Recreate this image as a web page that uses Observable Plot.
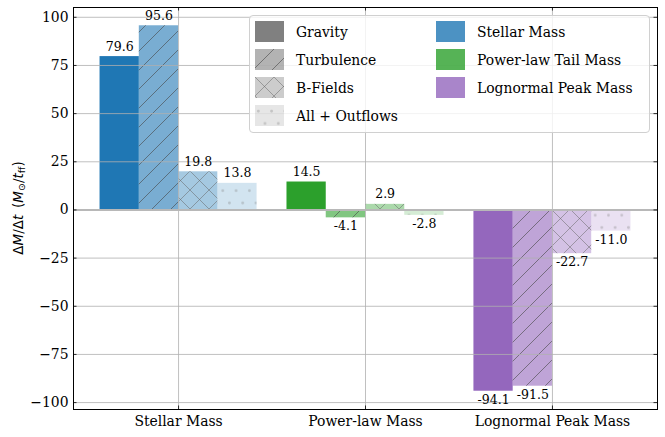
<!DOCTYPE html>
<html><head><meta charset="utf-8">
<script src="https://cdn.jsdelivr.net/npm/d3@7"></script>
<script src="https://cdn.jsdelivr.net/npm/@observablehq/plot@0.6"></script>
<style>
body{margin:0;background:white;}
#wrap{position:relative;width:665px;height:437px;}
.legend{position:absolute;left:249px;top:15px;width:401px;height:118px;border:1px solid #d0d0d0;border-radius:4px;background:rgba(255,255,255,0.8);box-sizing:border-box;font-family:"DejaVu Serif";font-size:13.9px;color:black;}
.item{position:absolute;display:flex;align-items:center;height:21px;white-space:nowrap;}
.item svg{margin-right:12px;display:block;}
</style></head><body><div id="wrap"></div>
<script>
const categories = ["Stellar Mass", "Power-law Mass", "Lognormal Peak Mass"];
const legendNames = ["Stellar Mass", "Power-law Tail Mass", "Lognormal Peak Mass"];
const models = ["Gravity", "Turbulence", "B-Fields", "All + Outflows"];
const stellar = [79.6, 95.6, 19.8, 13.8];
const powerlaw = [14.5, -4.1, 2.9, -2.8];
const lognormal = [-94.1, -91.5, -22.7, -11.0];
const colors = ["#1f77b4", "#2ca02c", "#9467bd"];
const alphas = [1, 0.6, 0.4, 0.2];
const yTicks = [-100, -75, -50, -25, 0, 25, 50, 75, 100];

const values = [stellar, powerlaw, lognormal];
const W = 0.21;
const rows = [];
categories.forEach((c, i) => values[i].forEach((v, j) => rows.push({
  cat: c, i, j, model: models[j], value: v,
  x1: i + (j - 2) * W, x2: i + (j - 1) * W, color: colors[i]
})));

const hatchIds = [null, "hatch-slash", "hatch-cross", "hatch-dots"];
const hatchKeys = [null, "#010101", "#020202", "#030303"];
const PW = 665 - 73 - 8, PH = 437 - 7 - 28, TL = 3.5;

const plot = Plot.plot({
  width: 665, height: 437,
  marginLeft: 73, marginRight: 8, marginTop: 7, marginBottom: 28,
  style: {fontFamily: "DejaVu Serif", fontSize: "13.9px", background: "white", color: "black", overflow: "visible"},
  x: {type: "linear", domain: [-0.562, 2.562]},
  y: {type: "linear", domain: [-103.585, 105.085]},
  color: {type: "identity"},
  marks: [
    ...models.map((m, j) => Plot.rect(rows.filter(r => r.j === j), {
      x1: "x1", x2: "x2", y1: 0, y2: "value", fill: "color", fillOpacity: alphas[j]
    })),
    ...[1, 2, 3].map(j => Plot.rect(rows.filter(r => r.j === j), {
      x1: "x1", x2: "x2", y1: 0, y2: "value", fill: hatchKeys[j]
    })),
    Plot.gridY(yTicks, {stroke: "#b0b0b0", strokeOpacity: 1, strokeWidth: 0.8}),
    Plot.gridX([0, 1, 2], {stroke: "#b0b0b0", strokeOpacity: 1, strokeWidth: 0.8}),
    Plot.ruleY([0], {stroke: "#b8b8b8", strokeWidth: 2}),
    Plot.text(rows.filter(r => r.value >= 0), {
      x: r => (r.x1 + r.x2) / 2, y: "value", text: r => r.value.toFixed(1),
      lineAnchor: "bottom", dy: -6, fontSize: 12.5, fill: "black", fontFamily: "DejaVu Serif"
    }),
    Plot.text(rows.filter(r => r.value < 0), {
      x: r => (r.x1 + r.x2) / 2, y: "value", text: r => r.value.toFixed(1),
      lineAnchor: "top", dy: 3.6, fontSize: 12.5, fill: "black", fontFamily: "DejaVu Serif"
    }),
    Plot.axisY(yTicks, {tickSize: 0, tickPadding: 5, fontSize: 13.9,
      tickFormat: d => d < 0 ? "\u2212" + Math.abs(d) : String(d), label: null}),
    Plot.axisX([0, 1, 2], {tickSize: 0, tickPadding: 7, fontSize: 13.9,
      tickFormat: i => categories[i], label: null}),
    Plot.tickY(yTicks, {y: d => d, insetRight: PW - TL, stroke: "black", strokeWidth: 0.8}),
    Plot.tickY(yTicks, {y: d => d, insetLeft: PW - TL, stroke: "black", strokeWidth: 0.8}),
    Plot.tickX([0, 1, 2], {x: d => d, insetBottom: PH - TL, stroke: "black", strokeWidth: 0.8}),
    Plot.tickX([0, 1, 2], {x: d => d, insetTop: PH - TL, stroke: "black", strokeWidth: 0.8}),
    Plot.frame({stroke: "black", strokeWidth: 1})
  ]
});

const wrap = document.getElementById("wrap");
wrap.appendChild(plot);
const svg = d3.select(plot);

// hatch patterns
const defs = svg.insert("defs", ":first-child");
const S = 19;
const ps = defs.append("pattern").attr("id", "hatch-slash").attr("patternUnits", "userSpaceOnUse")
  .attr("width", S).attr("height", S);
ps.append("path").attr("d", `M0,${S} L${S},0 M-2,2 L2,-2 M${S-2},${S+2} L${S+2},${S-2}`)
  .attr("stroke", "rgb(70,70,70)").attr("stroke-opacity", 0.6).attr("stroke-width", 1).attr("fill", "none");
const pc = defs.append("pattern").attr("id", "hatch-cross").attr("patternUnits", "userSpaceOnUse")
  .attr("width", S).attr("height", S);
pc.append("path").attr("d", `M0,${S} L${S},0 M-2,2 L2,-2 M${S-2},${S+2} L${S+2},${S-2} M0,0 L${S},${S} M-2,${S-2} L2,${S+2} M${S-2},-2 L${S+2},2`)
  .attr("stroke", "rgb(100,100,100)").attr("stroke-opacity", 0.5).attr("stroke-width", 1).attr("fill", "none");
const DW = 13.3, DH = 24.6;
const pd = defs.append("pattern").attr("id", "hatch-dots").attr("patternUnits", "userSpaceOnUse")
  .attr("width", DW).attr("height", DH);
[[DW/4, DH/4], [DW*3/4, DH*3/4]].forEach(([cx, cy]) =>
  pd.append("circle").attr("cx", cx).attr("cy", cy).attr("r", 1.4)
    .attr("fill", "rgb(128,128,128)").attr("fill-opacity", 0.35));

[1, 2, 3].forEach(j => {
  plot.querySelectorAll(`g[fill="${hatchKeys[j]}"]`).forEach(g => g.setAttribute("fill", `url(#${hatchIds[j]})`));
});

// y-axis label
const yl = svg.append("text")
  .attr("transform", "translate(18,208) rotate(-90)")
  .attr("text-anchor", "middle").attr("dominant-baseline", "central")
  .attr("font-family", "DejaVu Sans").attr("font-size", 13.5).attr("font-weight", 500).attr("fill", "black");
const parts = [
  ["\u0394", "normal", 0], ["M", "italic", 0], ["/", "normal", 0], ["\u0394", "normal", 0], ["t", "italic", 0],
  ["\u2002(", "normal", 0], ["M", "italic", 0], ["\u2299", "normal", 3], ["/", "normal", -3], ["t", "italic", 0],
  ["ff", "normal", 3], [")", "normal", -3]
];
parts.forEach(([txt, st, dy]) => {
  const sp = yl.append("tspan").attr("font-style", st).text(txt);
  if (dy) sp.attr("dy", dy);
  if (dy > 0) sp.attr("font-size", 9.5);
});

// legend
const leg = document.createElement("div");
leg.className = "legend";
wrap.appendChild(leg);
function swatch(fill, opacity, hatch) {
  let s = `<svg width="29" height="21"><rect width="29" height="21" fill="${fill}" fill-opacity="${opacity}"/>`;
  if (hatch) s += `<rect width="29" height="21" fill="url(#${hatch})"/>`;
  return s + `</svg>`;
}
models.forEach((m, j) => {
  const it = document.createElement("div");
  it.className = "item";
  it.style.left = "5px"; it.style.top = (5 + 28 * j) + "px";
  it.innerHTML = swatch("#808080", alphas[j], hatchIds[j]) + `<span>${m}</span>`;
  leg.appendChild(it);
});
legendNames.forEach((n, i) => {
  const it = document.createElement("div");
  it.className = "item";
  it.style.left = "186px"; it.style.top = (5 + 28 * i) + "px";
  it.innerHTML = swatch(colors[i], 0.8, null) + `<span>${n}</span>`;
  leg.appendChild(it);
});
</script></body></html>
